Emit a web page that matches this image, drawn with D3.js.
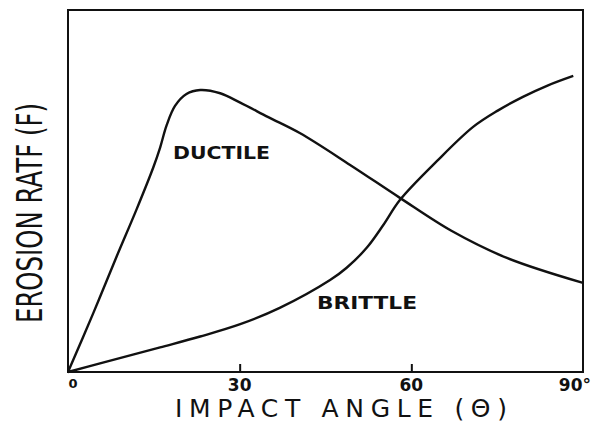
<!DOCTYPE html>
<html>
<head>
<meta charset="utf-8">
<script src="https://cdn.jsdelivr.net/npm/d3@7"></script>
<style>
  html, body { margin: 0; padding: 0; background: #fff; }
  svg { display: block; }
  text { font-family: "DejaVu Sans", sans-serif; fill: #111; }
</style>
</head>
<body>
<svg id="chart" width="593" height="425"></svg>
<script>
// Angle (deg) vs erosion rate (arbitrary units, 0-100 of the frame height)
const ductileAngle = [0, 4.4, 8.5, 12.0, 14.9, 16.1, 17.2, 18.7, 20.7, 23.1, 26.6, 30.1, 35, 40.5, 49.3, 58, 67, 76.7, 90];
const ductileRate  = [0, 16.2, 31.9, 45.0, 56.5, 62.0, 68.0, 73.5, 76.8, 77.9, 77.0, 74.4, 70.4, 66.0, 57.2, 48.1, 39.0, 31.5, 24.6];

const brittleAngle = [0, 5.6, 16.1, 23.1, 30.1, 37.0, 45.8, 48.7, 52.2, 55.1, 58, 64.5, 70.8, 75.1, 79.5, 83.9, 88.3];
const brittleRate  = [0, 2.4, 6.8, 9.8, 13.2, 17.7, 25.4, 28.8, 34.3, 40.6, 47.5, 58.3, 67.7, 72.2, 76.0, 79.2, 81.8];

const xTicks = [0, 30, 60, 90];
const xTickLabels = ['0', '30', '60', '90°'];

const W = 593, H = 425;
const margin = { top: 10, right: 10, bottom: 53, left: 68 };
const iW = W - margin.left - margin.right;
const iH = H - margin.top - margin.bottom;

const svg = d3.select('#chart');
const g = svg.append('g').attr('transform', `translate(${margin.left},${margin.top})`);

const x = d3.scaleLinear().domain([0, 90]).range([0, iW]);
const y = d3.scaleLinear().domain([0, 100]).range([iH, 0]);

/* ── frame ── */
g.append('rect')
  .attr('x', 0).attr('y', 0)
  .attr('width', iW).attr('height', iH)
  .attr('fill', 'none')
  .attr('stroke', '#111')
  .attr('stroke-width', 2);

/* ── x axis: short inward ticks + labels ── */
g.append('g')
  .attr('transform', `translate(0,${iH})`)
  .call(d3.axisBottom(x).tickValues([30, 60]).tickSize(-8).tickFormat(''))
  .call((a) => a.select('.domain').remove())
  .call((a) => a.selectAll('line').attr('stroke', '#111').attr('stroke-width', 2));

g.append('g')
  .selectAll('text')
  .data(xTicks)
  .join('text')
  .attr('x', (d) => d === 90 ? x(d) + 8 : x(d) + (d === 0 ? 5 : 0))
  .attr('y', (d) => iH + (d === 0 ? 16 : 19))
  .attr('text-anchor', (d) => d === 90 ? 'end' : 'middle')
  .attr('font-size', (d) => d === 0 ? 13 : 17)
  .attr('font-weight', 'bold')
  .text((d, i) => xTickLabels[i]);

/* ── curves ── */
const line = d3.line()
  .x((d) => x(d[0]))
  .y((d) => y(d[1]))
  .curve(d3.curveCatmullRom.alpha(0.5));

const series = [
  d3.zip(ductileAngle, ductileRate),
  d3.zip(brittleAngle, brittleRate)
];

g.selectAll('path.curve')
  .data(series)
  .join('path')
  .attr('class', 'curve')
  .attr('d', line)
  .attr('fill', 'none')
  .attr('stroke', '#111')
  .attr('stroke-width', 2.4);

/* ── curve labels ── */
g.append('text')
  .attr('x', 173 - margin.left).attr('y', 159 - margin.top)
  .attr('font-size', 17).attr('font-weight', 'bold')
  .attr('textLength', 97).attr('lengthAdjust', 'spacingAndGlyphs')
  .text('DUCTILE');

g.append('text')
  .attr('x', 317 - margin.left).attr('y', 309 - margin.top)
  .attr('font-size', 17).attr('font-weight', 'bold')
  .attr('textLength', 100).attr('lengthAdjust', 'spacingAndGlyphs')
  .text('BRITTLE');

/* ── axis titles ── */
svg.append('text')
  .attr('x', 175).attr('y', 417)
  .attr('font-size', 25)
  .attr('textLength', 332).attr('lengthAdjust', 'spacing')
  .text('IMPACT ANGLE (Θ)');

svg.append('text')
  .attr('transform', 'translate(42,213) rotate(-90)')
  .attr('text-anchor', 'middle')
  .attr('font-size', 35)
  .attr('textLength', 220).attr('lengthAdjust', 'spacingAndGlyphs')
  .text('EROSION RATF (F)');
</script>
</body>
</html>
